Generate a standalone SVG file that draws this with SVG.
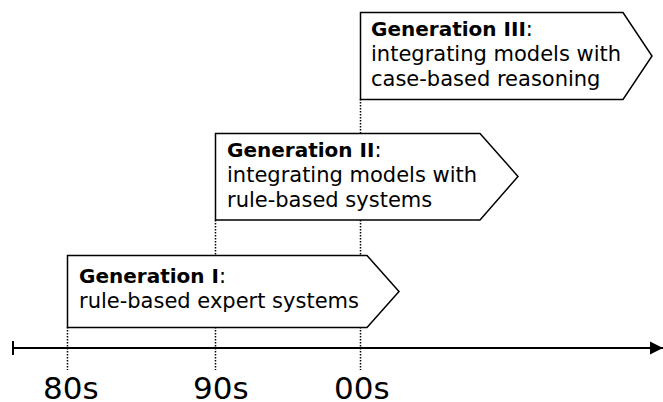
<svg xmlns="http://www.w3.org/2000/svg" width="663" height="402" viewBox="0 0 663 402">
  <style>
    .box { fill: #ffffff; stroke: #000000; stroke-width: 1.5; stroke-linejoin: miter; }
    .guide { stroke: #000000; stroke-width: 1.5; stroke-dasharray: 1.5 1.5; fill: none; }
    .axis { stroke: #000000; stroke-width: 2; fill: none; }
    .t { font-family: "DejaVu Sans", Verdana, sans-serif; font-size: 21px; fill: #000000; }
    .b { font-weight: bold; font-size: 20px; }
    .lbl { font-family: "DejaVu Sans", Verdana, sans-serif; font-size: 31px; fill: #000000; }
  </style>
  <defs>
    <marker id="arrow" viewBox="0 0 10 10" refX="10" refY="5" markerWidth="13" markerHeight="15" markerUnits="userSpaceOnUse" orient="auto">
      <path d="M0,0 L10,5 L0,10 Z" fill="#000000"/>
    </marker>
  </defs>

  <!-- dotted guides from the decade ticks up to the boxes -->
  <g id="connectors">
    <line class="guide" x1="67.5" y1="327" x2="67.5" y2="370"/>
    <line class="guide" x1="215.5" y1="220" x2="215.5" y2="255"/>
    <line class="guide" x1="215.5" y1="327" x2="215.5" y2="370"/>
    <line class="guide" x1="360.5" y1="99" x2="360.5" y2="133"/>
    <line class="guide" x1="360.5" y1="220" x2="360.5" y2="255"/>
    <line class="guide" x1="360.5" y1="327" x2="360.5" y2="370"/>
  </g>

  <!-- time axis -->
  <g id="axis">
    <line class="axis" x1="13" y1="348" x2="663" y2="348" marker-end="url(#arrow)"/>
    <line class="axis" x1="13" y1="341" x2="13" y2="355"/>
    <text class="lbl" x="43" y="399">80s</text>
    <text class="lbl" x="193" y="399">90s</text>
    <text class="lbl" x="334" y="399">00s</text>
  </g>

  <g id="gen1">
    <path class="box" d="M67.5,255.5 H367 L399,291.5 L367,327.5 H67.5 Z"/>
    <text class="t" x="79" y="283"><tspan class="b">Generation I</tspan>:</text>
    <text class="t" x="79" y="308">rule-based expert systems</text>
  </g>

  <g id="gen2">
    <path class="box" d="M215.5,133.5 H480 L518,176.5 L480,220 H215.5 Z"/>
    <text class="t" x="227" y="157"><tspan class="b">Generation II</tspan>:</text>
    <text class="t" x="227" y="182">integrating models with</text>
    <text class="t" x="227" y="207">rule-based systems</text>
  </g>

  <g id="gen3">
    <path class="box" d="M360.5,12.5 H623 L652,56 L623,99.5 H360.5 Z"/>
    <text class="t" x="371" y="36"><tspan class="b">Generation III</tspan>:</text>
    <text class="t" x="371" y="61">integrating models with</text>
    <text class="t" x="371" y="86">case-based reasoning</text>
  </g>
</svg>
